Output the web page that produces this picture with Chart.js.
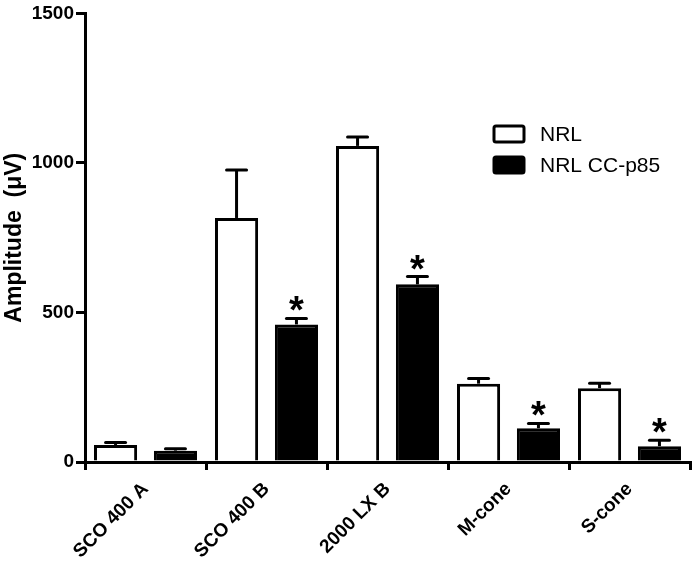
<!DOCTYPE html>
<html>
<head>
<meta charset="utf-8">
<script src="https://cdn.jsdelivr.net/npm/chart.js@4.4.1/dist/chart.umd.min.js"></script>
<style>
  html, body { margin: 0; padding: 0; background: #fff; }
  #wrap { width: 693px; height: 565px; position: relative; }
</style>
</head>
<body>
<div id="wrap"><canvas id="ergChart"></canvas></div>
<script>
// 数据
const categories = ['SCO 400 A', 'SCO 400 B', '2000 LX B', 'M-cone', 'S-cone'];
const nrlValues = [57, 816, 1057, 262, 247];
const nrlErrors = [8, 160, 30, 17, 16];
const p85Values = [38, 460, 594, 113, 53];
const p85Errors = [6, 20, 26, 16, 20];
const p85Significant = [false, true, true, true, true];
const yTicks = [0, 500, 1000, 1500];
const yTitle = 'Amplitude  (\u03bcV)';

const FONT = '"Liberation Sans", Arial, sans-serif';

// 误差线 + 星号
const errorBarPlugin = {
    id: 'errorBars',
    afterDatasetsDraw(chart) {
        const ctx = chart.ctx;
        const yScale = chart.scales.y;
        chart.data.datasets.forEach((ds, di) => {
            const meta = chart.getDatasetMeta(di);
            meta.data.forEach((bar, i) => {
                const v = ds.data[i];
                const top = yScale.getPixelForValue(v);
                const capY = yScale.getPixelForValue(v + ds.errors[i]);
                ctx.save();
                ctx.strokeStyle = '#000';
                ctx.lineWidth = 3;
                ctx.beginPath();
                ctx.moveTo(bar.x, top);
                ctx.lineTo(bar.x, capY);
                ctx.stroke();
                ctx.lineCap = 'round';
                ctx.beginPath();
                ctx.moveTo(bar.x - 10, capY);
                ctx.lineTo(bar.x + 10, capY);
                ctx.stroke();
                if (ds.significant && ds.significant[i]) {
                    ctx.fillStyle = '#000';
                    ctx.font = 'bold 38px ' + FONT;
                    ctx.textAlign = 'center';
                    ctx.textBaseline = 'alphabetic';
                    ctx.fillText('*', bar.x, capY + 5);
                }
                ctx.restore();
            });
        });
    }
};

// 图例 + y轴标题
const legendPlugin = {
    id: 'boxLegend',
    afterDraw(chart) {
        const ctx = chart.ctx;
        const x0 = 494, rows = [134, 165];
        chart.data.datasets.forEach((ds, di) => {
            const y = rows[di];
            ctx.save();
            ctx.fillStyle = ds.backgroundColor;
            ctx.strokeStyle = '#000';
            ctx.lineWidth = 3;
            ctx.beginPath();
            ctx.roundRect(x0, y - 8, 30, 16, 2);
            ctx.fill();
            ctx.stroke();
            ctx.fillStyle = '#000';
            ctx.font = '21px ' + FONT;
            ctx.textAlign = 'left';
            ctx.textBaseline = 'middle';
            ctx.fillText(ds.label, x0 + 46, y + 1);
            ctx.restore();
        });

        const area = chart.chartArea;
        ctx.save();
        ctx.translate(15, (area.top + area.bottom) / 2);
        ctx.rotate(-Math.PI / 2);
        ctx.fillStyle = '#000';
        ctx.font = 'bold 23px ' + FONT;
        ctx.textAlign = 'center';
        ctx.textBaseline = 'middle';
        ctx.fillText(yTitle, 0, 0);
        ctx.restore();
    }
};

new Chart(document.getElementById('ergChart'), {
    type: 'bar',
    data: {
        labels: categories,
        datasets: [{
            label: 'NRL',
            data: nrlValues,
            errors: nrlErrors,
            backgroundColor: '#ffffff',
            borderColor: '#000000',
            borderWidth: 3
        }, {
            label: 'NRL CC-p85',
            data: p85Values,
            errors: p85Errors,
            significant: p85Significant,
            backgroundColor: '#000000',
            borderColor: '#000000',
            borderWidth: 3
        }]
    },
    options: {
        responsive: true,
        maintainAspectRatio: false,
        animation: false,
        categoryPercentage: 0.99,
        barPercentage: 0.72,
        layout: { padding: { top: 10, right: 3, left: 0, bottom: 0 } },
        plugins: {
            legend: { display: false },
            tooltip: { enabled: false }
        },
        scales: {
            x: {
                grid: { display: true, drawOnChartArea: false, drawTicks: true, tickLength: 8, color: '#000', lineWidth: 3 },
                border: { display: true, color: '#000', width: 3 },
                ticks: {
                    color: '#000',
                    font: { family: FONT, size: 19, weight: 'bold' },
                    minRotation: 45,
                    maxRotation: 45,
                    padding: 8
                },
                afterFit(scale) { scale.height = 103; }
            },
            y: {
                min: 0,
                max: 1500,
                afterBuildTicks(scale) { scale.ticks = yTicks.map(v => ({ value: v })); },
                grid: { display: true, drawOnChartArea: false, drawTicks: true, tickLength: 9, color: '#000', lineWidth: 3 },
                border: { display: true, color: '#000', width: 3 },
                ticks: {
                    color: '#000',
                    font: { family: FONT, size: 19, weight: 'bold' },
                    padding: 2,
                    callback: (v) => String(v)
                },
                afterFit(scale) { scale.width = 85; }
            }
        }
    },
    plugins: [errorBarPlugin, legendPlugin]
});
</script>
</body>
</html>
